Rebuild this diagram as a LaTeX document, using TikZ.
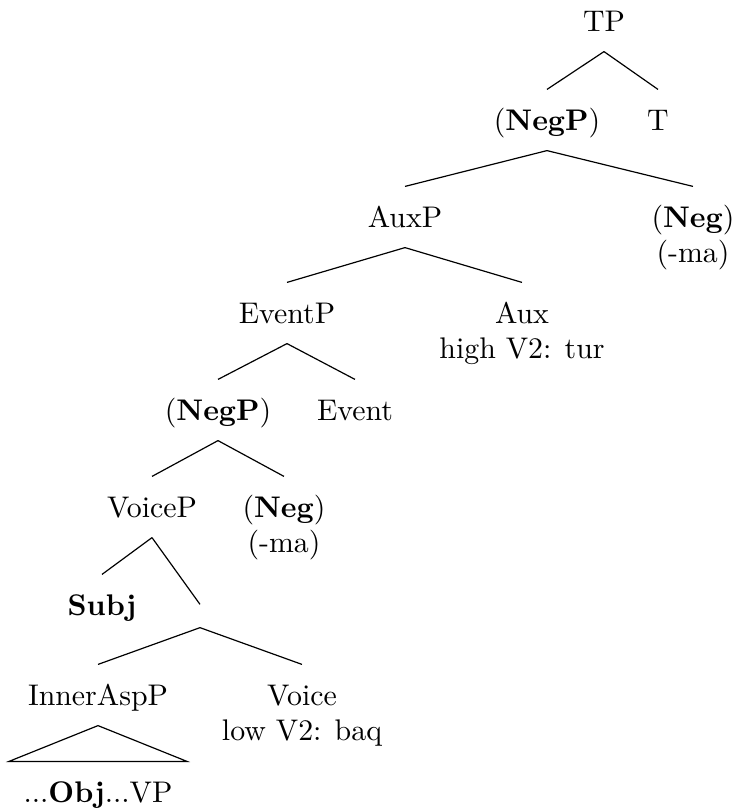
\documentclass[tikz,border=0pt]{standalone}
\usepackage{tikz}

\tikzset{
  cat/.style={inner sep=0pt, text height=13.4pt, text depth=6.7pt, anchor=base},
  twoline/.style={cat},
}
\newcommand{\twolbl}[2]{\begin{tabular}[t]{@{}c@{}}#1\\#2\end{tabular}}

\begin{document}
\begin{tikzpicture}[x=0.335pt, y=-0.335pt]
  % Page frame in image units (1 unit = one pixel of the target)
  \useasboundingbox (0,0) rectangle (736,809);
  % Clause spine, top down
  \node[cat] (tp)     at (604,31)  {TP};
  \node[cat] (negp)   at (547,130) {(\textbf{NegP})};
  \node[cat] (t)      at (658,130) {T};
  \node[cat] (auxp)   at (405,227) {AuxP};
  \node[twoline] (neg)  at (693,227) {\twolbl{(\textbf{Neg})}{(-ma)}};
  \node[cat] (eventp) at (287,323) {EventP};
  \node[twoline] (aux)  at (522,323) {\twolbl{Aux}{high V2: tur}};
  \node[cat] (negpb)  at (218,420) {(\textbf{NegP})};
  \node[cat] (event)  at (355,420) {Event};
  \node[cat] (voicep) at (152,517) {VoiceP};
  \node[twoline] (negb) at (284,517) {\twolbl{(\textbf{Neg})}{(-ma)}};
  \node[cat] (subj)   at (102,615) {\textbf{Subj}};
  % Unlabelled Voice-bar node
  \node[inner sep=0pt, minimum height=7.4pt, minimum width=0pt] (vbar) at (200,616) {};
  \node[cat] (innerasp) at (98,705) {InnerAspP};
  \node[twoline] (voice) at (302,705) {\twolbl{Voice}{low V2: baq}};
  \node[cat, inner xsep=4.7pt] (obj) at (98,802) {...\textbf{Obj}...VP};
  % Branches
  \foreach \a/\b in {tp/negp, tp/t, negp/auxp, negp/neg, auxp/eventp, auxp/aux,
                     eventp/negpb, eventp/event, negpb/voicep, negpb/negb,
                     voicep/subj, voicep/vbar, vbar/innerasp, vbar/voice}
    \draw (\a.south) -- (\b.north);
  % Roof over the VP
  \draw (innerasp.south) -- (obj.north west) -- (obj.north east) -- cycle;
\end{tikzpicture}
\end{document}
